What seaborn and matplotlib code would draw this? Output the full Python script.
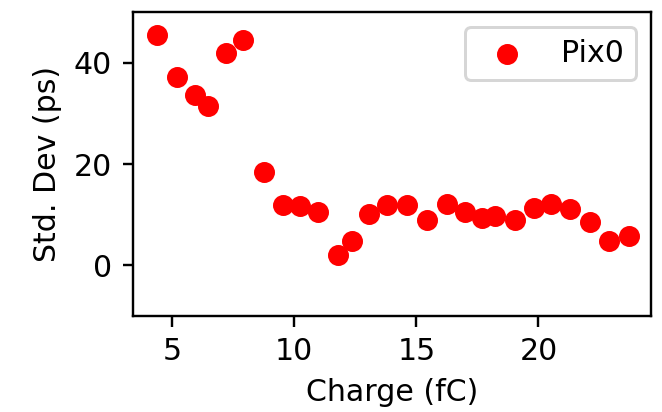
import matplotlib
matplotlib.use("Agg")
import matplotlib.pyplot as plt
import seaborn as sns
import pandas as pd

charge = [4.39, 5.2, 5.94, 6.48, 7.2, 7.9, 8.77, 9.55, 10.25, 10.98, 11.8, 12.38,
          13.07, 13.8, 14.6, 15.45, 16.27, 17.0, 17.7, 18.24, 19.06, 19.8, 20.5,
          21.3, 22.1, 22.87, 23.7]
std_dev = [45.5, 37.2, 33.7, 31.5, 41.9, 44.5, 18.5, 12.0, 11.7, 10.6, 2.0, 4.9,
           10.2, 12.0, 12.0, 8.9, 12.2, 10.6, 9.4, 9.8, 8.9, 11.4, 12.2,
           11.2, 8.5, 4.9, 5.9]
series_label = "Pix0"

df = pd.DataFrame({"Charge (fC)": charge, "Std. Dev (ps)": std_dev})

dpi = 216
fig = plt.figure(figsize=(662 / dpi, 412 / dpi), dpi=dpi)
ax = fig.add_axes([0.201, 0.233, 0.782, 0.737])
sns.scatterplot(data=df, x="Charge (fC)", y="Std. Dev (ps)", ax=ax,
                color="red", edgecolor="red", linewidth=1.0, s=36, label=series_label)
ax.set_xlim(3.4, 24.6)
ax.set_ylim(-10, 50)
ax.set_xticks([5, 10, 15, 20])
ax.set_yticks([0, 20, 40])
ax.legend(loc="upper right")
fig.savefig("out.png", dpi=dpi)
